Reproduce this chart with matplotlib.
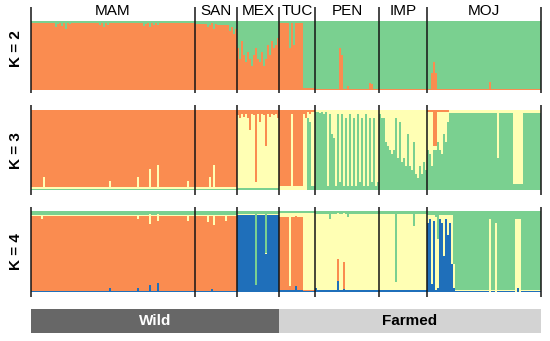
import numpy as np
import matplotlib
matplotlib.use('Agg')
from matplotlib import pyplot as plt

plt.rcParams['font.family'] = ['Liberation Sans', 'DejaVu Sans']

pops = ['MAM', 'SAN', 'MEX', 'TUC', 'PEN', 'IMP', 'MOJ']
pop_sizes = [82, 21, 21, 18, 32, 24, 57]
groups = ['Wild', 'Farmed']
group_pops = [3, 4]
k_labels = ['K = 2', 'K = 3', 'K = 4']

orange = '#FA8C50'
yellow = '#FFFFB4'
green = '#7AD090'
blue = '#1F6FBA'

# K = 2 : orange share (green is the rest)
k2_orange = (
    [0.96]*12 + [0.9, 0.95, 0.97, 0.92, 0.96, 0.88, 0.97, 0.95] + [0.96]*14
    + [0.93, 0.97, 0.9, 0.96, 0.94, 0.97] + [0.96]*16
    + [0.92, 0.95, 0.97, 0.9, 0.96, 0.94, 0.97, 0.93] + [0.96]*18          # MAM
    + [0.95]*6 + [0.9, 0.93, 0.96, 0.88, 0.95] + [0.94]*6 + [0.85, 0.9, 0.8, 0.88]  # SAN
    + [0.6, 0.45, 0.7, 0.5, 0.4, 0.55, 0.45, 0.35, 0.5, 0.6, 0.45, 0.4, 0.55, 0.35,
       0.45, 0.65, 0.5, 0.7, 0.6, 0.65, 0.75]                               # MEX
    + [0.97]*5 + [0.6, 0.97, 0.65] + [0.97]*4 + [0.03]*6                     # TUC
    + [0.02]*12 + [0.6, 0.5] + [0.02]*2 + [0.06] + [0.02]*10 + [0.1, 0.08] + [0.02]*3  # PEN
    + [0.02]*24                                                              # IMP
    + [0.02]*2 + [0.25, 0.4, 0.25] + [0.02]*26 + [0.12] + [0.02]*25         # MOJ
)

# K = 3 : green (bottom), yellow, orange (top = rest)
k3_green = (
    [0.02]*82 + [0.02]*21 + [0.03]*21
    + [0.01]*14 + [0.9, 0.85, 0.05, 0.05]
    + [0.98, 0.98, 0.97, 0.98, 0.95, 0.98, 0.05, 0.95, 0.7, 0.65, 0.05, 0.95, 0.1, 0.95,
       0.05, 0.9, 0.05, 0.95, 0.05, 0.9, 0.05, 0.95, 0.1, 0.9, 0.05, 0.95, 0.05, 0.9,
       0.1, 0.9, 0.05, 0.1]
    + [0.95, 0.9, 0.9, 0.6, 0.55, 0.5, 0.45, 0.5, 0.9, 0.4, 0.85, 0.35, 0.4, 0.3, 0.7, 0.3,
       0.25, 0.6, 0.2, 0.15, 0.3, 0.2, 0.35, 0.25]
    + [0.5, 0.45, 0.3, 0.5, 0.5, 0.6, 0.5, 0.45, 0.7, 0.6, 0.85] + [0.97]*24 + [0.4]
    + [0.97]*7 + [0.08]*5 + [0.97]*9
)
k3_yellow = (
    [0.02]*6 + [0.15] + [0.02]*32 + [0.1] + [0.02]*13 + [0.15] + [0.02]*5 + [0.25]
    + [0.02]*3 + [0.3] + [0.02]*14 + [0.1] + [0.02]*3                       # MAM
    + [0.02]*7 + [0.15, 0.02, 0.3] + [0.02]*11                              # SAN
    + [0.91, 0.87, 0.92, 0.89, 0.93, 0.87, 0.72, 0.92, 0.91, 0.07, 0.92, 0.82, 0.93, 0.91,
       0.52, 0.92, 0.89, 0.93, 0.91, 0.92, 0.87]                            # MEX
    + [0.04]*6 + [0.95] + [0.04]*5 + [0.95, 0.9] + [0.08, 0.1] + [0.93, 0.93]  # TUC
    + [0.02, 0.02, 0.03, 0.02, 0.05, 0.02, 0.95, 0.05, 0.3, 0.35, 0.95, 0.05, 0.9, 0.05,
       0.95, 0.1, 0.95, 0.05, 0.95, 0.1, 0.95, 0.05, 0.9, 0.1, 0.95, 0.05, 0.95, 0.1,
       0.9, 0.1, 0.95, 0.9]                                                 # PEN
    + [0.05, 0.1, 0.1, 0.4, 0.45, 0.5, 0.55, 0.5, 0.1, 0.6, 0.15, 0.65, 0.6, 0.7,
       0.3, 0.7, 0.75, 0.4, 0.8, 0.85, 0.7, 0.8, 0.65, 0.75]                # IMP
    + [0.48, 0.53, 0.68, 0.05, 0.05, 0.38, 0.48, 0.53, 0.28, 0.38, 0.13] + [0.03]*24 + [0.6]
    + [0.03]*7 + [0.92]*5 + [0.03]*9                                        # MOJ
)

# K = 4 : blue (bottom), orange, yellow, green (top)
k4_blue = (
    [0.01]*39 + [0.05] + [0.01]*13 + [0.05] + [0.01]*5 + [0.1] + [0.01]*3 + [0.13] + [0.01]*18
    + [0.01]*8 + [0.04] + [0.01]*12
    + [0.95]*9 + [0.08] + [0.95]*4 + [0.45] + [0.95]*6
    + [0.03]*8 + [0.08] + [0.03]*3 + [0.01]*6
    + [0.05] + [0.02]*10 + [0.23] + [0.02]*2 + [0.05] + [0.02]*17
    + [0.02]*24
    + [0.85, 0.9, 0.1, 0.88, 0.02, 0.05, 0.9, 0.85, 0.45, 0.9, 0.7, 0.85, 0.35, 0.05]
    + [0.01]*17 + [0.0] + [0.01]*2 + [0.0] + [0.01]*9 + [0.0, 0.05, 0.0] + [0.01]*10
)
k4_orange = (
    [0.93]*82 + [0.93]*21 + [0.0]*21
    + [0.9]*5 + [0.05] + [0.9]*6 + [0.02]*6
    + [0.0]*11 + [0.43] + [0.0]*2 + [0.5] + [0.0]*17
    + [0.0]*24 + [0.0]*57
)
k4_yellow = (
    [0.01]*5 + [0.06] + [0.01]*47 + [0.05] + [0.01]*5 + [0.15] + [0.01]*3 + [0.1]
    + [0.01]*14 + [0.08] + [0.01]*3
    + [0.01]*6 + [0.1] + [0.01]*2 + [0.15] + [0.01]*5 + [0.08] + [0.01]*5
    + [0.01]*21
    + [0.04]*5 + [0.9] + [0.04]*6 + [0.95]*6
    + [0.92]*32
    + [0.94]*8 + [0.1] + [0.94]*8 + [0.8] + [0.94]*6
    + [0.1, 0.05, 0.85, 0.07, 0.9, 0.6, 0.05, 0.1, 0.5, 0.05, 0.25, 0.1, 0.6, 0.3]
    + [0.02]*17 + [0.9] + [0.02]*2 + [0.85] + [0.02]*9 + [0.9]*3 + [0.02]*10
)
k4_green = (
    [0.05]*82 + [0.05]*21
    + [0.04]*9 + [0.9] + [0.04]*4 + [0.5] + [0.04]*6
    + [0.03]*18
    + [0.04]*7 + [0.1] + [0.04]*8 + [0.08] + [0.04]*15
    + [0.04]*8 + [0.88] + [0.04]*8 + [0.18] + [0.04]*6
    + [0.05, 0.05, 0.05, 0.05, 0.08, 0.35, 0.05, 0.05, 0.05, 0.05, 0.05, 0.05, 0.05, 0.65]
    + [0.97]*17 + [0.1] + [0.97]*2 + [0.15] + [0.97]*9 + [0.1]*3 + [0.97]*10
)

n = sum(pop_sizes)
k2_orange = np.array(k2_orange)
k3_green, k3_yellow = np.array(k3_green), np.array(k3_yellow)
panels = [
    ([k2_orange, 1 - k2_orange], [orange, green]),
    ([k3_green, k3_yellow, np.clip(1 - k3_green - k3_yellow, 0, 1)], [green, yellow, orange]),
    ([np.array(k4_blue), np.array(k4_orange), np.array(k4_yellow), np.array(k4_green)],
     [blue, orange, yellow, green]),
]

fig = plt.figure(figsize=(5.5, 3.41), dpi=100)
left, width = 31 / 550, 510 / 550
boxes = [(20.5, 90), (110.5, 190.5), (211, 292)]
line_ext = [(1.19, -0.045), (1.065, -0.055), (1.05, -0.06)]
label_y = [0.59, 0.5, 0.5]
bounds = np.cumsum([0] + pop_sizes)

for i, (comps, cols) in enumerate(panels):
    top, bot = boxes[i]
    ax = fig.add_axes([left, 1 - bot / 341, width, (bot - top) / 341])
    Q = np.array(comps, dtype=float)
    Q = Q / Q.sum(axis=0)
    x = np.arange(n)
    base = np.zeros(n)
    for q, c in zip(Q, cols):
        ax.bar(x, q, bottom=base, width=1.0, align='edge', color=c,
               linewidth=0, antialiased=False)
        base += q
    ax.set_xlim(0, n)
    ax.set_ylim(0, 1)
    ax.axis('off')
    ymax, ymin = line_ext[i]
    ax.vlines(bounds, ymin, ymax, transform=ax.get_xaxis_transform(),
              color='#151515', lw=1.1, clip_on=False)
    ax.text(-0.029, label_y[i], k_labels[i], rotation=90, transform=ax.transAxes,
            ha='center', va='center', fontsize=11, fontweight='bold')
    if i == 0:
        for p, a, b in zip(pops, bounds[:-1], bounds[1:]):
            ax.text((a + b) / 2, 1.135, p, transform=ax.get_xaxis_transform(),
                    ha='center', va='center', fontsize=11)

# Wild / Farmed bar
axg = fig.add_axes([left, 1 - 333 / 341, width, 24 / 341])
gb = [0, bounds[group_pops[0]], n]
gcols = ['#676767', '#D3D3D3']
tcols = ['white', 'black']
for g, a, b, fc, tc in zip(groups, gb[:-1], gb[1:], gcols, tcols):
    axg.axvspan(a, b, color=fc, lw=0)
    axg.text((a + b) / 2, 0.5, g, ha='center', va='center', color=tc,
             fontsize=11, fontweight='bold', transform=axg.get_xaxis_transform())
axg.set_xlim(0, n)
axg.set_ylim(0, 1)
axg.axis('off')

fig.savefig('out.png', dpi=100)
